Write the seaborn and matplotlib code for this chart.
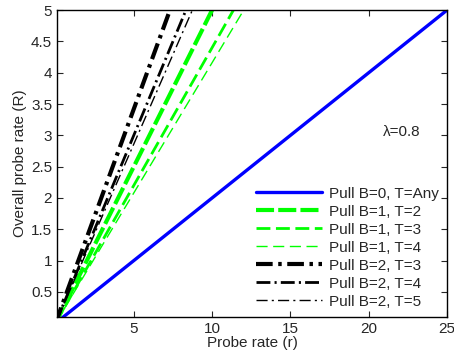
import numpy as np
import pandas as pd
import matplotlib
matplotlib.use("Agg")
import matplotlib.pyplot as plt
import seaborn as sns

# probe rate r at the two ends, overall probe rate R
r = [0, 25]
labels = ["Pull B=0, T=Any", "Pull B=1, T=2", "Pull B=1, T=3", "Pull B=1, T=4",
          "Pull B=2, T=3", "Pull B=2, T=4", "Pull B=2, T=5"]
R_end = [5.0, 12.5, 11.0, 10.4, 17.1, 15.0, 14.3]

xticks = [5, 10, 15, 20, 25]
yticks = [0.5, 1, 1.5, 2, 2.5, 3, 3.5, 4, 4.5, 5]

sns.set_style("ticks")
plt.rcParams['font.family'] = ['Liberation Sans', 'DejaVu Sans']
plt.rcParams['lines.scale_dashes'] = False

colors = ['#0000ff', '#00ff00', '#00ff00', '#00ff00', 'black', 'black', 'black']
widths = [2.4, 3.0, 2.0, 1.0, 3.0, 2.0, 1.0]
styles = ['-', (0, (13, 3)), (0, (10, 4)), (0, (8, 4)),
          (0, (12, 4, 2.5, 4)), (0, (10, 3, 1.5, 3)), (0, (8, 3, 1.5, 3))]

fig = plt.figure(figsize=(4.54, 3.56), dpi=100)
ax = fig.add_axes([0.1256, 0.1096, 0.859, 0.862])

for lab, end, c, w, ls in zip(labels, R_end, colors, widths, styles):
    df = pd.DataFrame({'r': r, 'R': [0, end]})
    sns.lineplot(data=df, x='r', y='R', ax=ax, color=c, lw=w, linestyle=ls, label=lab)

ax.set_xlim(0.1, 25)
ax.set_ylim(0.1, 5)
ax.set_xticks(xticks)
ax.set_yticks(yticks)
ax.set_yticklabels(['0.5', '1', '1.5', '2', '2.5', '3', '3.5', '4', '4.5', '5'])
ax.tick_params(direction='in', top=True, right=True, labelsize=11, length=4, width=0.8)
for s in ax.spines.values():
    s.set_visible(True)
    s.set_linewidth(1.0)
    s.set_color('black')
ax.set_xlabel('Probe rate (r)', fontsize=11, labelpad=0)
ax.set_ylabel('Overall probe rate (R)', fontsize=11, labelpad=3)
ax.text(20.9, 3.05, 'λ=0.8', fontsize=11, va='center', ha='left')

leg = ax.legend(loc='lower right', frameon=False, fontsize=11, handlelength=4.3,
                handletextpad=0.45, labelspacing=0.26, borderaxespad=0.15)

fig.savefig('out.png', dpi=100)
